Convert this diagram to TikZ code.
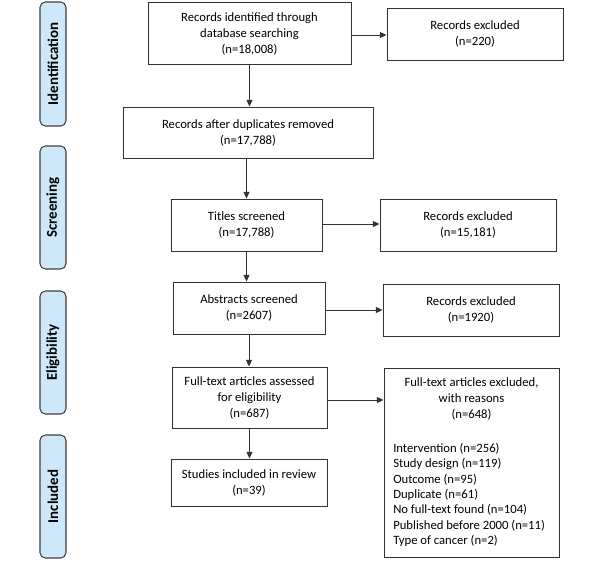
\documentclass[tikz,border=0pt]{standalone}
\usepackage{fontspec}
\setmainfont{Carlito}
\usetikzlibrary{arrows.meta}
\begin{document}
\begin{tikzpicture}[x=0.75pt,y=-0.75pt,
  txt/.style={align=center, inner sep=0pt, font=\fontsize{9.5}{12}\selectfont},
  box/.style={txt, draw=black!80, line width=0.7pt},
  phase/.style={draw=black!75, fill=phaseblue, line width=0.8pt, rounded corners=4pt, inner sep=0pt},
  plabel/.style={rotate=90, font=\bfseries\fontsize{11.2}{13}\selectfont},
  arr/.style={-{Triangle[length=5pt,width=4.5pt]}, line width=0.7pt, draw=black!80}]
\definecolor{phaseblue}{HTML}{CDE8FB}
\useasboundingbox (0,0) rectangle (600,562);
% phases
\path[phase] (40,2) rectangle (66,126) node[midway, plabel] (p1) {Identification};
\path[phase] (40,146) rectangle (66,269) node[midway, plabel] (p2) {Screening};
\path[phase] (40,291) rectangle (66,414) node[midway, plabel] (p3) {Eligibility};
\path[phase] (40,435) rectangle (66,558) node[midway, plabel] (p4) {Included};
% main boxes
\node[box, minimum width=203*0.75pt, minimum height=62*0.75pt] (b1) at (249.5,33.5) {Records identified through\\database searching\\(n=18,008)};
\node[box, minimum width=176*0.75pt, minimum height=52*0.75pt] (e1) at (475,34) {Records excluded\\(n=220)};
\node[box, minimum width=250*0.75pt, minimum height=51*0.75pt] (b2) at (248,132.5) {Records after duplicates removed\\(n=17,788)};
\node[box, minimum width=151*0.75pt, minimum height=52*0.75pt] (b3) at (246.5,225) {Titles screened\\(n=17,788)};
\node[box, minimum width=176*0.75pt, minimum height=52*0.75pt] (e2) at (468,225) {Records excluded\\(n=15,181)};
\node[box, minimum width=152*0.75pt, minimum height=52*0.75pt] (b4) at (249,308) {Abstracts screened\\(n=2607)};
\node[box, minimum width=176*0.75pt, minimum height=52*0.75pt] (e3) at (471,310) {Records excluded\\(n=1920)};
\node[box, minimum width=155*0.75pt, minimum height=61*0.75pt] (b5) at (249.5,397.5) {Full-text articles assessed\\for eligibility\\(n=687)};
\node[box, minimum width=175*0.75pt, minimum height=189*0.75pt] (e4) at (471.5,462.5) {};
\node[txt, anchor=north] (e4h) at (471.5,377) {Full-text articles excluded,\\with reasons\\(n=648)};
\node[txt, align=left, anchor=north west, font=\fontsize{9.5}{11.5}\selectfont] (e4l) at (393,443) {Intervention (n=256)\\Study design (n=119)\\Outcome (n=95)\\Duplicate (n=61)\\No full-text found (n=104)\\Published before 2000 (n=11)\\Type of cancer (n=2)};
\node[box, minimum width=156*0.75pt, minimum height=47*0.75pt] (b6) at (249,482.5) {Studies included in review\\(n=39)};
% arrows
\draw[arr] (b1.east |- 0,35) -- (e1.west |- 0,35);
\draw[arr] (b1.south) -- (b1.south |- b2.north);
\draw[arr] (b2.south -| b3.north) -- (b3.north);
\draw[arr] (b3.east |- 0,224) -- (e2.west |- 0,224);
\draw[arr] (b3.south) -- (b3.south |- b4.north);
\draw[arr] (b4.east |- 0,310) -- (e3.west |- 0,310);
\draw[arr] (b4.south) -- (b4.south |- b5.north);
\draw[arr] (b5.east |- 0,400) -- (e4.west |- 0,400);
\draw[arr] (b5.south) -- (b5.south |- b6.north);
\end{tikzpicture}
\end{document}
